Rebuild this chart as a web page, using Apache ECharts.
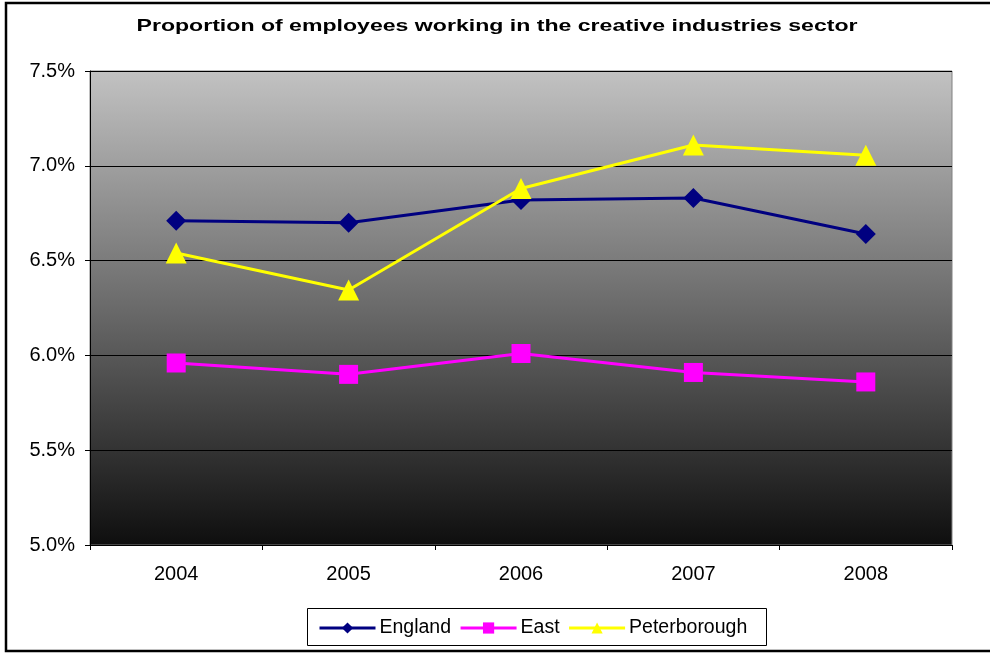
<!DOCTYPE html>
<html>
<head>
<meta charset="utf-8">
<script src="https://cdn.jsdelivr.net/npm/echarts@6/dist/echarts.min.js"></script>
<style>
html,body{margin:0;padding:0;background:#fff;}
#chart{width:990px;height:653px;}
</style>
</head>
<body>
<div id="chart"></div>
<script>
var categories = ['2004', '2005', '2006', '2007', '2008'];
var england = [6.71, 6.70, 6.82, 6.83, 6.64];
var east = [5.96, 5.90, 6.01, 5.91, 5.86];
var peterborough = [6.54, 6.345, 6.88, 7.11, 7.055];
var yTicks = { min: 5.0, max: 7.5, interval: 0.5 };
var titleText = 'Proportion of employees working in the creative industries sector';

var font = 'Liberation Sans, Arial, sans-serif';
var titleSize = 16.5;
var cnv = document.createElement('canvas').getContext('2d');
cnv.font = 'bold ' + titleSize + 'px "Liberation Sans", Arial, sans-serif';
var titleScale = 721 / cnv.measureText(titleText).width;

var chart = echarts.init(document.getElementById('chart'), null, { renderer: 'canvas' });
chart.setOption({
  animation: false,
  backgroundColor: '#fff',
  graphic: [
    { type: 'polyline', shape: { points: [[995, 3], [6, 3], [6, 651], [995, 651]] },
      style: { stroke: '#000', lineWidth: 2.5, fill: null }, silent: true },
    { type: 'rect', shape: { x: 307.5, y: 608.5, width: 459, height: 37 },
      style: { stroke: '#000', lineWidth: 1, fill: '#fff' }, z: -1, silent: true },
    { type: 'text', x: 497, y: 26, scaleX: titleScale, silent: true,
      style: { text: titleText, fontFamily: font, fontSize: titleSize, fontWeight: 'bold',
        fill: '#000', textAlign: 'center', textVerticalAlign: 'middle' } }
  ],
  grid: {
    left: 90, right: 38, top: 71, bottom: 108,
    show: true,
    borderColor: '#808080', borderWidth: 1,
    backgroundColor: new echarts.graphic.LinearGradient(0, 0, 0, 1, [
      { offset: 0, color: '#c2c2c2' },
      { offset: 0.5, color: '#6a6a6a' },
      { offset: 1, color: '#0e0e0e' }
    ])
  },
  legend: {
    left: 313, top: 613,
    itemWidth: 56, itemHeight: 14, itemGap: 8,
    lineStyle: { width: 3 },
    textStyle: { fontFamily: font, fontSize: 19.5, color: '#000', padding: [0, 0, 0, -1] },
    data: ['England', 'East', 'Peterborough']
  },
  xAxis: {
    type: 'category',
    data: categories,
    boundaryGap: true,
    axisLine: { lineStyle: { color: '#000', width: 1 } },
    axisTick: { show: true, length: 5, lineStyle: { color: '#000' } },
    axisLabel: { fontFamily: font, fontSize: 20, color: '#000', margin: 19 },
    splitLine: { show: false }
  },
  yAxis: {
    type: 'value',
    min: yTicks.min, max: yTicks.max, interval: yTicks.interval,
    axisLine: { show: true, lineStyle: { color: '#000', width: 1 } },
    axisTick: { show: true, length: 5, lineStyle: { color: '#000' } },
    axisLabel: { fontFamily: font, fontSize: 20, color: '#000', margin: 15,
      formatter: function (v) { return v.toFixed(1) + '%'; } },
    splitLine: { show: true, lineStyle: { color: '#000', width: 1 } }
  },
  series: [
    { name: 'England', type: 'line', data: england,
      symbol: 'diamond', symbolSize: 20,
      lineStyle: { color: '#000080', width: 3 },
      itemStyle: { color: '#000080' } },
    { name: 'East', type: 'line', data: east,
      symbol: 'rect', symbolSize: 19,
      lineStyle: { color: '#ff00ff', width: 3 },
      itemStyle: { color: '#ff00ff' } },
    { name: 'Peterborough', type: 'line', data: peterborough,
      symbol: 'triangle', symbolSize: 21,
      lineStyle: { color: '#ffff00', width: 3 },
      itemStyle: { color: '#ffff00' } }
  ]
});
</script>
</body>
</html>
